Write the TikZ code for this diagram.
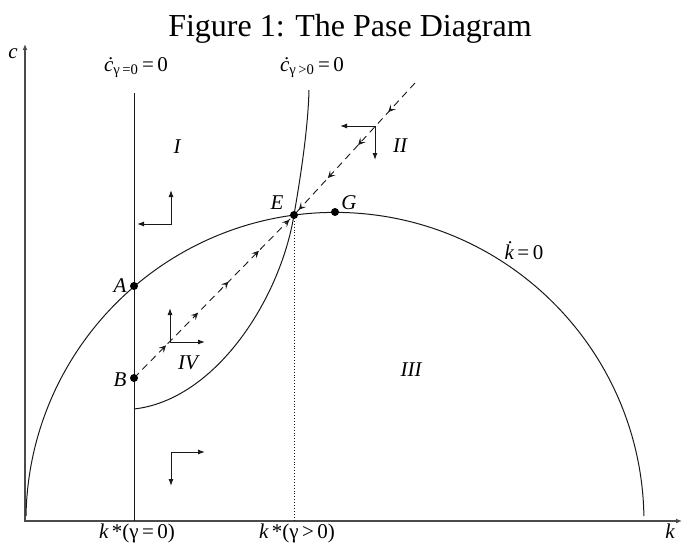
\documentclass[tikz,border=0pt]{standalone}
\usepackage{fontspec}
\setmainfont{Liberation Serif}
\usetikzlibrary{arrows.meta, decorations.markings}
\definecolor{mydark}{RGB}{25,25,25}
\definecolor{myaxis}{RGB}{75,75,75}
\tikzset{
  axis/.style={{Latex[length=6pt,width=5pt]}-{Latex[length=6pt,width=5pt]},
    line width=1.4pt, color=myaxis},
  curve/.style={line width=1pt, color=mydark},
  guide/.style={dotted, line width=0.9pt, color=mydark},
  phase/.style={{Latex[length=7pt,width=5pt]}-{Latex[length=7pt,width=5pt]},
    line width=1pt, color=mydark},
  saddle/.style={dash pattern=on 7pt off 5pt, line width=0.9pt, color=mydark},
  flowlow/.style={postaction={decorate}, decoration={markings,
    mark=at position 0.2 with {\arrow{Stealth[length=7pt,width=7pt,inset=3pt]}},
    mark=at position 0.4 with {\arrow{Stealth[length=7pt,width=7pt,inset=3pt]}},
    mark=at position 0.59 with {\arrow{Stealth[length=7pt,width=7pt,inset=3pt]}},
    mark=at position 0.78 with {\arrow{Stealth[length=7pt,width=7pt,inset=3pt]}},
    mark=at position 0.97 with {\arrow{Stealth[length=7pt,width=7pt,inset=3pt]}}}},
  flowhigh/.style={postaction={decorate}, decoration={markings,
    mark=at position 0.22 with {\arrow{Stealth[length=7pt,width=7pt,inset=3pt]}},
    mark=at position 0.47 with {\arrow{Stealth[length=7pt,width=7pt,inset=3pt]}},
    mark=at position 0.72 with {\arrow{Stealth[length=7pt,width=7pt,inset=3pt]}},
    mark=at position 0.96 with {\arrow{Stealth[length=7pt,width=7pt,inset=3pt]}}}},
  dot/.style={circle, fill=black, inner sep=0pt, minimum size=8pt},
  lbl/.style={font=\fontsize{21}{23}\selectfont\itshape, inner sep=0pt}
}

\begin{document}
\begin{tikzpicture}[x=1pt, y=-1pt]
  \useasboundingbox (0,0) rectangle (683,543);

  % Title
  \node[font=\fontsize{32}{34}\selectfont, anchor=base] (title) at (350,37) {Figure 1: The Pase Diagram};

  % Axes
  \coordinate (O) at (25,521);
  \coordinate (ytop) at (25,44);
  \coordinate (xend) at (682,521);
  \draw[axis] (ytop) -- (O) -- (xend);
  \node[lbl] (lc) at (13,54) {c};
  \node[lbl] (lk) at (670,531) {k};

  % Key points
  \coordinate (A) at (134,286);
  \coordinate (B) at (134,378);
  \coordinate (E) at (294,215);
  \coordinate (G) at (335,212);
  \coordinate (top) at (415,83);

  % Loci
  \coordinate (c0top) at (134,93);
  \coordinate (kstar0) at (134,521);
  \coordinate (c1bot) at (134,409);
  \coordinate (c1top) at (309,90);
  \coordinate (kstar1) at (294,521);
  \draw[curve] (c0top) -- (kstar0);
  \draw[curve] (c1bot) .. controls (215,400) and (280,300) .. (E)
    .. controls (300,180) and (308,130) .. (c1top);
  \draw[curve] (O) ++(1,-5) arc[start angle=179, end angle=1, radius=309pt];
  \draw[guide] (E) -- (kstar1);

  % Saddle path
  \draw[saddle, flowlow] (B) -- (E);
  \draw[saddle, flowhigh] (top) -- (E);

  % Phase arrows
  \foreach \name/\x/\y/\h/\v in {I/171/224/-34/-34, II/375/126/-35/34,
      III/171/452/34/34, IV/170/342/35/-34} {
    \coordinate (\name) at (\x,\y);
    \path (\name) ++(\h,0) coordinate (\name h) (\name) ++(0,\v) coordinate (\name v);
    \draw[phase] (\name h) -- (\name) -- (\name v);
  }

  % Dots
  \node[dot] (Adot) at (A) {};
  \node[dot] (Bdot) at (B) {};
  \node[dot] (Edot) at (E) {};
  \node[dot] (Gdot) at (G) {};

  % Labels
  \node[lbl] (lA) at (120,286) {A};
  \node[lbl] (lB) at (120,380) {B};
  \node[lbl] (lE) at (277,203) {E};
  \node[lbl] (lG) at (349,203) {G};
  \node[lbl] (lI) at (177,147) {I};
  \node[lbl] (lII) at (400,146) {II};
  \node[lbl] (lIII) at (411,370) {III};
  \node[lbl] (lIV) at (188,363) {IV};
  \node[lbl] (lc0) at (136,68) {ċ\textsubscript{\upshape γ\,=0}\upshape\,=\,0};
  \node[lbl] (lc1) at (312,68) {ċ\textsubscript{\upshape γ\,>0}\upshape\,=\,0};
  \node[lbl] (lkd) at (524,251) {k̇\upshape\,=\,0};
  \node[lbl] (lk0) at (137,533) {k\,\upshape*(γ\,=\,0)};
  \node[lbl] (lk1) at (297,533) {k\,\upshape*(γ\,>\,0)};
\end{tikzpicture}
\end{document}
